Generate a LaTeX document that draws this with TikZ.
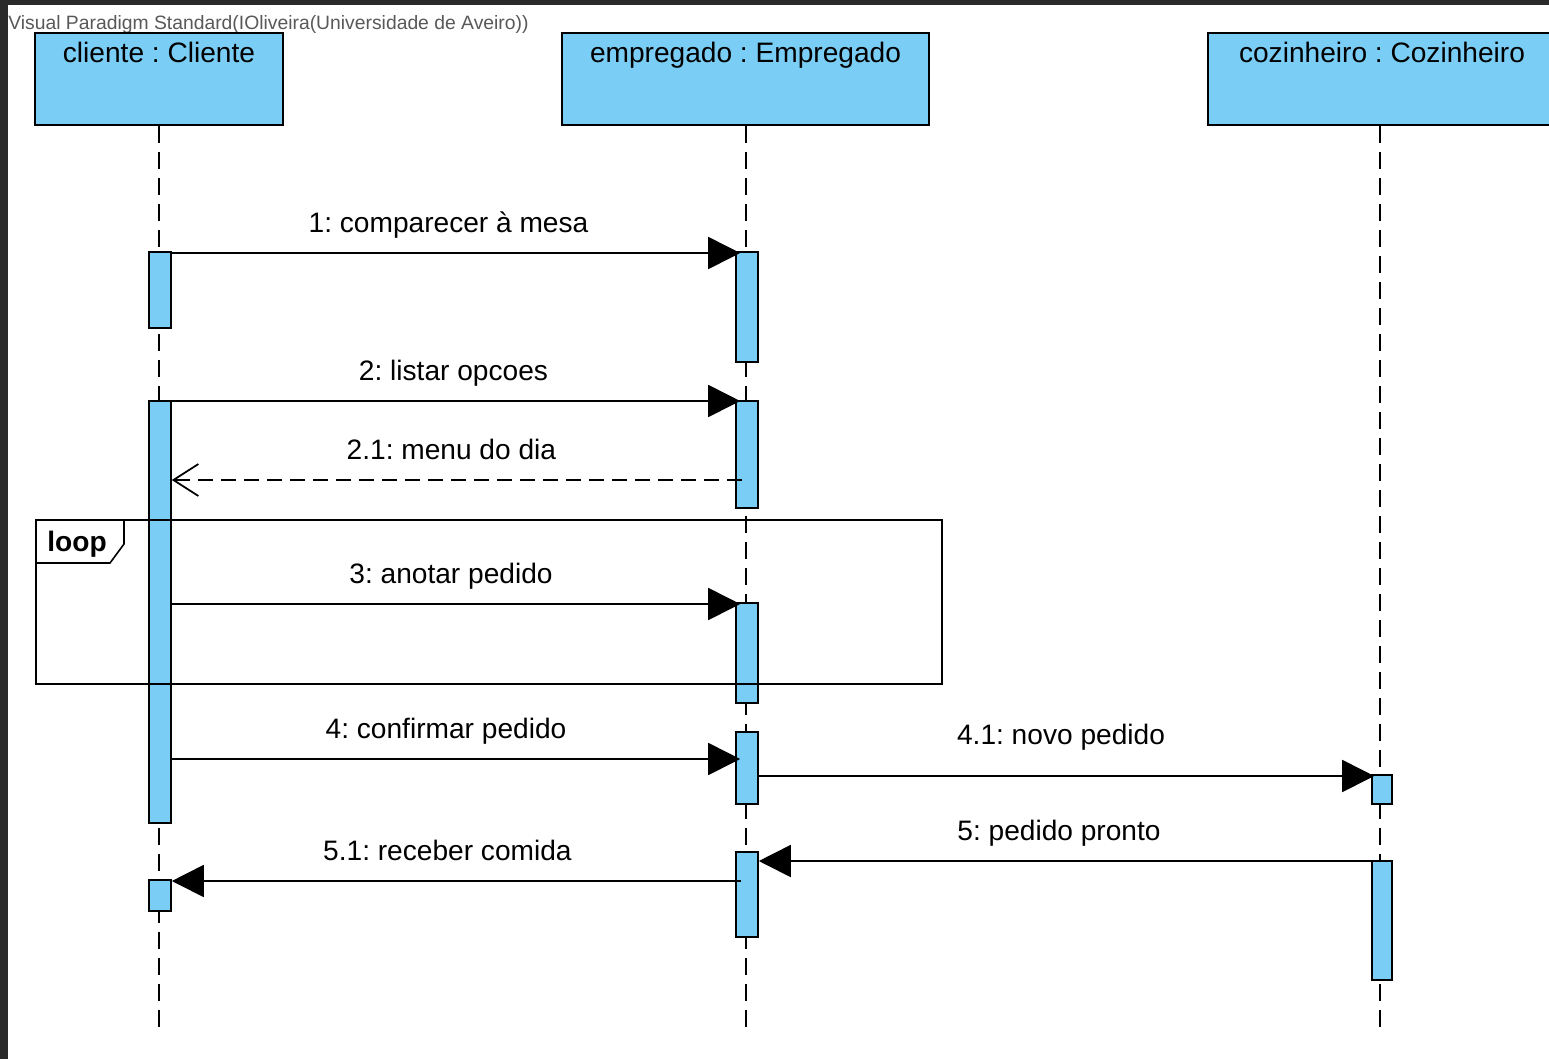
\documentclass[tikz,border=0pt]{standalone}
\usepackage{fontspec}
\setmainfont{Liberation Sans}
\usetikzlibrary{arrows.meta, calc, positioning}
\definecolor{lifeblue}{RGB}{122,205,244}
\definecolor{screen}{RGB}{42,42,42}
\frenchspacing
\tikzstyle{lifebox} = [
    rectangle,
    minimum height = 1.84cm,
    inner sep = 0pt,
    draw = black,
    fill = lifeblue,
    line width = 1pt,
]
\tikzstyle{lifename} = [anchor = base, inner sep = 0pt]
\tikzstyle{lifeline} = [line width = 1pt, dash pattern = on 0.34cm off 0.18cm]
\tikzstyle{act} = [
    rectangle,
    minimum width = 0.44cm,
    inner sep = 0pt,
    anchor = north,
    draw = black,
    fill = lifeblue,
    line width = 0.9pt,
]
\tikzstyle{msg} = [line width = 1pt, -{Triangle[length = 0.64cm, width = 0.64cm]}]
\tikzstyle{reply} = [line width = 1pt, dash pattern = on 0.3cm off 0.16cm, -{Straight Barb[length = 0.5cm, width = 0.64cm]}]
\tikzstyle{msglabel} = [midway, anchor = base, inner sep = 0pt, yshift = 0.42cm]

\begin{document}
\begin{tikzpicture} [x = 0.02cm, y = -0.02cm, font = \fontsize{16}{19}\selectfont]
    \useasboundingbox (0,0) rectangle (1549,1059);
    \fill[screen] (0,0) rectangle (1549,1059);
    \fill[white] (8,5) rectangle (1549,1059);
    \node (header) [anchor = base west, inner sep = 0pt, text = black!65, font = \fontsize{11}{13}\selectfont] at (8,29) {Visual Paradigm Standard(IOliveira(Universidade de Aveiro))};

    % objetos
    \node (cliente) [lifebox, minimum width = 4.96cm] at (159,79) {};
    \node (empregado) [lifebox, minimum width = 7.34cm] at (745.5,79) {};
    \node (cozinheiro) [lifebox, minimum width = 6.96cm] at (1382,79) {};
    \node (cliente-name) [lifename] at ($(cliente.north) + (0,30)$) {cliente : Cliente};
    \node (empregado-name) [lifename] at ($(empregado.north) + (0,30)$) {empregado : Empregado};
    \node (cozinheiro-name) [lifename] at ($(cozinheiro.north) + (0,30)$) {cozinheiro : Cozinheiro};

    \coordinate (cliente-end) at (159,1030);
    \coordinate (empregado-end) at (746,1030);
    \coordinate (cozinheiro-end) at (1380,1030);
    \draw[lifeline] (cliente.south -| cliente-end) -- (cliente-end);
    \draw[lifeline] (empregado.south -| empregado-end) -- (empregado-end);
    \draw[lifeline] (cozinheiro.south -| cozinheiro-end) -- (cozinheiro-end);

    % barras de ativacao
    \node (c1) [act, minimum height = 1.52cm] at (160,251) {};
    \node (c2) [act, minimum height = 8.44cm] at (160,400) {};
    \node (c3) [act, minimum height = 0.62cm] at (160,879) {};
    \node (e1) [act, minimum height = 2.2cm] at (747,251) {};
    \node (e2) [act, minimum height = 2.14cm] at (747,400) {};
    \node (e3) [act, minimum height = 2cm] at (747,602) {};
    \node (e4) [act, minimum height = 1.44cm] at (747,731) {};
    \node (e5) [act, minimum height = 1.7cm] at (747,851) {};
    \node (k1) [act, minimum width = 0.4cm, minimum height = 0.58cm] at (1382,774) {};
    \node (k2) [act, minimum width = 0.4cm, minimum height = 2.38cm] at (1382,860) {};

    % mensagens
    \coordinate (y1) at (0,253);
    \coordinate (y2) at (0,401);
    \coordinate (y21) at (742,480);
    \coordinate (y3) at (0,604);
    \coordinate (y4) at (0,759);
    \coordinate (y41) at (0,776);
    \coordinate (y5) at (0,861);
    \coordinate (y51) at (741,881);

    \draw[msg, shorten >= -0.1cm] (c1.east |- y1) -- (e1.west |- y1) node[msglabel, xshift = -0.1cm] {1: comparecer à mesa};
    \draw[msg, shorten >= -0.1cm] (c2.east |- y2) -- (e2.west |- y2) node[msglabel] {2: listar opcoes};
    \draw[reply] (y21) -- (c2.east |- y21) node[msglabel, xshift = -0.11cm] {2.1: menu do dia};
    \draw[msg, shorten >= -0.1cm] (c2.east |- y3) -- (e3.west |- y3) node[msglabel, xshift = -0.05cm] {3: anotar pedido};
    \draw[msg, shorten >= -0.1cm] (c2.east |- y4) -- (e4.west |- y4) node[msglabel, xshift = -0.15cm] {4: confirmar pedido};
    \draw[msg, shorten >= -0.06cm] (e4.east |- y41) -- (k1.west |- y41) node[msglabel, xshift = -0.08cm, yshift = 0.22cm] {4.1: novo pedido};
    \draw[msg] (k2.west |- y5) -- (e5.east |- y5) node[msglabel, xshift = -0.12cm] {5: pedido pronto};
    \draw[msg] (y51) -- (c3.east |- y51) node[msglabel, xshift = -0.18cm] {5.1: receber comida};

    % fragmento loop
    \node (loop) [rectangle, draw = black, line width = 1pt, inner sep = 0pt, anchor = north west, minimum width = 18.12cm, minimum height = 3.28cm] at (35,519) {};
    \draw[line width = 0.9pt] (loop.north west) ++(89,0) -- ++(0,25) -- ++(-14,19) -- ++(-75,0);
    \node (loop-name) [anchor = base, inner sep = 0pt, font = \fontsize{16}{19}\selectfont\bfseries] at (77,551) {loop};
\end{tikzpicture}
\end{document}
